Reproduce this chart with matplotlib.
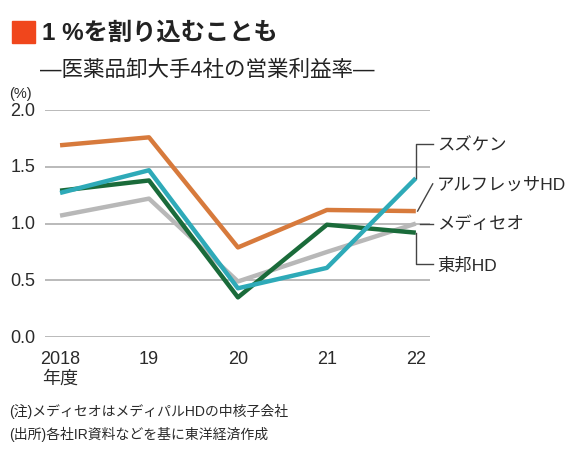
import matplotlib
matplotlib.use("Agg")
import matplotlib.pyplot as plt
from matplotlib.patches import Rectangle

# Helvetica-like Latin glyphs, Japanese falls back to Noto CJK
plt.rcParams['font.family'] = ['Liberation Sans', 'Noto Sans CJK JP', 'DejaVu Sans']

years = ["2018\n年度", "19", "20", "21", "22"]
suzuken = [1.69, 1.76, 0.79, 1.12, 1.11]
alfresa = [1.27, 1.47, 0.43, 0.61, 1.40]
toho = [1.29, 1.38, 0.35, 0.99, 0.92]
mediceo = [1.07, 1.22, 0.49, 0.75, 1.00]

names = ["スズケン", "アルフレッサHD", "メディセオ", "東邦HD"]

C_ORANGE = "#d77a3c"
C_TEAL = "#2eaab8"
C_GREEN = "#1a6b3a"
C_GRAY = "#b8b8b8"
TXT = "#2a2a2a"

fig = plt.figure(figsize=(5.7, 4.6), dpi=100)
ax = fig.add_axes([0.079, 0.265, 0.675, 0.4935])

x = range(len(years))
ax.plot(x, mediceo, color=C_GRAY, lw=3.2, solid_capstyle="butt", zorder=3)
ax.plot(x, toho, color=C_GREEN, lw=3.2, solid_capstyle="butt", zorder=4)
ax.plot(x, suzuken, color=C_ORANGE, lw=3.2, solid_capstyle="butt", zorder=5)
ax.plot(x, alfresa, color=C_TEAL, lw=3.2, solid_capstyle="butt", zorder=6)

ax.set_xlim(-0.169, 4.157)
ax.set_ylim(0, 2.0)
ax.set_yticks([0, 0.5, 1.0, 1.5, 2.0])
ax.set_yticklabels(["0.0", "0.5", "1.0", "1.5", "2.0"])
ax.set_xticks(list(x))
ax.set_xticklabels(years, linespacing=1.2)
ax.yaxis.grid(True, color="#b4b4b4", lw=1.3)
ax.set_axisbelow(True)
for s in ax.spines.values():
    s.set_visible(False)
ax.tick_params(length=0, labelsize=13, labelcolor=TXT)
ax.tick_params(axis="y", pad=7)
ax.tick_params(axis="x", pad=9)
for lab in ax.get_yticklabels():
    lab.set_verticalalignment("center")

# leader lines and series labels
lab_y = [1.70, 1.35, 1.00, 0.64]
ends = [alfresa[-1], suzuken[-1], mediceo[-1], toho[-1]]
kw = dict(color="#444444", lw=1.0, clip_on=False, zorder=7)
ax.plot([4.0, 4.0, 4.19], [ends[0], lab_y[0], lab_y[0]], **kw)
ax.plot([4.02, 4.19], [ends[1], lab_y[1]], **kw)
ax.plot([4.05, 4.19], [ends[2], lab_y[2]], **kw)
ax.plot([4.0, 4.0, 4.19], [ends[3], lab_y[3], lab_y[3]], **kw)
for name, yy in zip(names, lab_y):
    ax.text(4.24, yy, name, fontsize=12.5, color=TXT, va="center", ha="left",
            clip_on=False)

# title block
fig.patches.append(Rectangle((12 / 570, 1 - 44 / 460), 23 / 570, 22 / 460,
                             transform=fig.transFigure, color="#f0461c"))
fig.text(42 / 570, 1 - 33 / 460, "1 %を割り込むことも", fontsize=17.5,
         fontweight="bold", color="#222222", va="center", ha="left")
fig.text(40 / 570, 1 - 70 / 460, "―医薬品卸大手4社の営業利益率―", fontsize=15.5,
         color="#222222", va="center", ha="left")
fig.text(9 / 570, 1 - 94 / 460, "(%)", fontsize=10.5, color=TXT, va="center", ha="left")

fig.text(9 / 570, 1 - 411 / 460, "(注)メディセオはメディパルHDの中核子会社",
         fontsize=10, color=TXT, va="center", ha="left")
fig.text(9 / 570, 1 - 434 / 460, "(出所)各社IR資料などを基に東洋経済作成",
         fontsize=10, color=TXT, va="center", ha="left")

fig.savefig("out.png", dpi=100, facecolor="white")
